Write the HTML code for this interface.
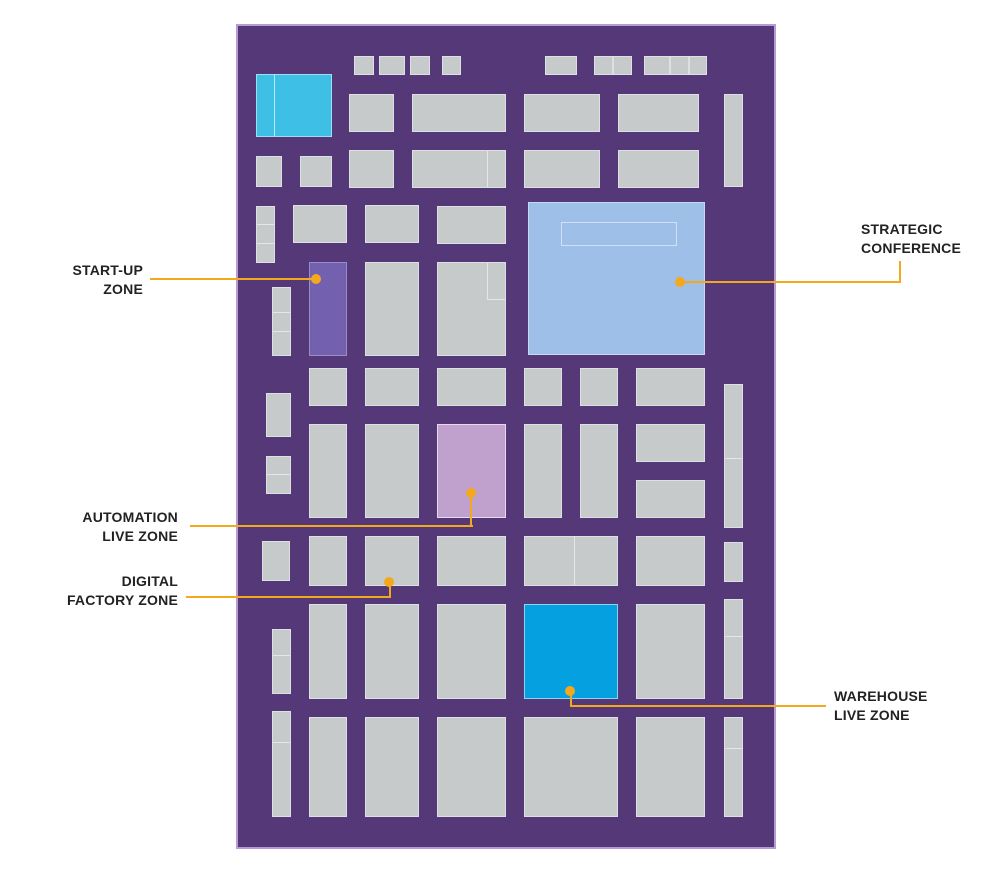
<!DOCTYPE html>
<html><head><meta charset="utf-8"><style>
body{margin:0;width:997px;height:888px;background:#fff;position:relative;overflow:hidden;font-family:"Liberation Sans",sans-serif}
.hall{position:absolute;left:236px;top:24px;width:536px;height:821px;background:#553877;border:2px solid #b89bd3;box-sizing:content-box}
.b{position:absolute;background:#c6cacb;border:1px solid #dde0e2;box-sizing:border-box}
.s{position:absolute;height:1px;background:#e4e6e8}
.l{position:absolute;font-weight:bold;font-size:14px;line-height:19px;color:#222;letter-spacing:0.2px}
.r{text-align:right}
.h{position:absolute;background:#f4a81c;height:2px}
.v{position:absolute;background:#f4a81c;width:2px}
.d{position:absolute;width:10px;height:10px;border-radius:50%;background:#f4a81c}
</style></head><body>
<div class="hall"></div>
<div class="b" style="left:354px;top:56px;width:20px;height:19px"></div>
<div class="b" style="left:379px;top:56px;width:26px;height:19px"></div>
<div class="b" style="left:410px;top:56px;width:20px;height:19px"></div>
<div class="b" style="left:442px;top:56px;width:19px;height:19px"></div>
<div class="b" style="left:545px;top:56px;width:32px;height:19px"></div>
<div class="b" style="left:594px;top:56px;width:19px;height:19px"></div>
<div class="b" style="left:613px;top:56px;width:19px;height:19px"></div>
<div class="b" style="left:644px;top:56px;width:26px;height:19px"></div>
<div class="b" style="left:670px;top:56px;width:19px;height:19px"></div>
<div class="b" style="left:689px;top:56px;width:18px;height:19px"></div>
<div class="b" style="left:256px;top:74px;width:76px;height:63px;background:#3ec0e6;border-color:#9fe0f3"></div>
<div style="position:absolute;left:274px;top:75px;width:1px;height:61px;background:#b8e9f7"></div>
<div class="b" style="left:349px;top:94px;width:45px;height:38px"></div>
<div class="b" style="left:412px;top:94px;width:94px;height:38px"></div>
<div class="b" style="left:524px;top:94px;width:76px;height:38px"></div>
<div class="b" style="left:618px;top:94px;width:81px;height:38px"></div>
<div class="b" style="left:724px;top:94px;width:19px;height:93px"></div>
<div class="b" style="left:256px;top:156px;width:26px;height:31px"></div>
<div class="b" style="left:300px;top:156px;width:32px;height:31px"></div>
<div class="b" style="left:349px;top:150px;width:45px;height:38px"></div>
<div class="b" style="left:412px;top:150px;width:94px;height:38px"></div>
<div style="position:absolute;left:487px;top:151px;width:1px;height:36px;background:#e4e6e8"></div>
<div class="b" style="left:524px;top:150px;width:76px;height:38px"></div>
<div class="b" style="left:618px;top:150px;width:81px;height:38px"></div>
<div class="b" style="left:256px;top:206px;width:19px;height:57px"></div>
<div class="s" style="left:257px;top:224px;width:17px"></div>
<div class="s" style="left:257px;top:243px;width:17px"></div>
<div class="b" style="left:293px;top:205px;width:54px;height:38px"></div>
<div class="b" style="left:365px;top:205px;width:54px;height:38px"></div>
<div class="b" style="left:437px;top:206px;width:69px;height:38px"></div>
<div class="b" style="left:528px;top:202px;width:177px;height:153px;background:#9dbfe8;border-color:#c2d8f3"></div>
<div style="position:absolute;left:561px;top:222px;width:116px;height:24px;border:1px solid #d0e0f5;box-sizing:border-box"></div>
<div class="b" style="left:272px;top:287px;width:19px;height:69px"></div>
<div class="s" style="left:273px;top:312px;width:17px"></div>
<div class="s" style="left:273px;top:331px;width:17px"></div>
<div class="b" style="left:309px;top:262px;width:38px;height:94px;background:#7360ae;border-color:#9a8bc9"></div>
<div class="b" style="left:365px;top:262px;width:54px;height:94px"></div>
<div class="b" style="left:437px;top:262px;width:69px;height:94px"></div>
<div style="position:absolute;left:487px;top:263px;width:1px;height:37px;background:#e4e6e8"></div>
<div style="position:absolute;left:487px;top:299px;width:18px;height:1px;background:#e4e6e8"></div>
<div class="b" style="left:309px;top:368px;width:38px;height:38px"></div>
<div class="b" style="left:365px;top:368px;width:54px;height:38px"></div>
<div class="b" style="left:437px;top:368px;width:69px;height:38px"></div>
<div class="b" style="left:524px;top:368px;width:38px;height:38px"></div>
<div class="b" style="left:580px;top:368px;width:38px;height:38px"></div>
<div class="b" style="left:636px;top:368px;width:69px;height:38px"></div>
<div class="b" style="left:724px;top:384px;width:19px;height:144px"></div>
<div class="s" style="left:725px;top:458px;width:17px"></div>
<div class="b" style="left:266px;top:393px;width:25px;height:44px"></div>
<div class="b" style="left:266px;top:456px;width:25px;height:38px"></div>
<div class="s" style="left:267px;top:474px;width:23px"></div>
<div class="b" style="left:309px;top:424px;width:38px;height:94px"></div>
<div class="b" style="left:365px;top:424px;width:54px;height:94px"></div>
<div class="b" style="left:437px;top:424px;width:69px;height:94px;background:#c0a1cd;border-color:#e6d8ee"></div>
<div class="b" style="left:524px;top:424px;width:38px;height:94px"></div>
<div class="b" style="left:580px;top:424px;width:38px;height:94px"></div>
<div class="b" style="left:636px;top:424px;width:69px;height:38px"></div>
<div class="b" style="left:636px;top:480px;width:69px;height:38px"></div>
<div class="b" style="left:262px;top:541px;width:28px;height:40px"></div>
<div class="b" style="left:309px;top:536px;width:38px;height:50px"></div>
<div class="b" style="left:365px;top:536px;width:54px;height:50px"></div>
<div class="b" style="left:437px;top:536px;width:69px;height:50px"></div>
<div class="b" style="left:524px;top:536px;width:94px;height:50px"></div>
<div style="position:absolute;left:574px;top:537px;width:1px;height:48px;background:#e4e6e8"></div>
<div class="b" style="left:636px;top:536px;width:69px;height:50px"></div>
<div class="b" style="left:724px;top:542px;width:19px;height:40px"></div>
<div class="b" style="left:272px;top:629px;width:19px;height:65px"></div>
<div class="s" style="left:273px;top:655px;width:17px"></div>
<div class="b" style="left:309px;top:604px;width:38px;height:95px"></div>
<div class="b" style="left:365px;top:604px;width:54px;height:95px"></div>
<div class="b" style="left:437px;top:604px;width:69px;height:95px"></div>
<div class="b" style="left:524px;top:604px;width:94px;height:95px;background:#05a0df;border-color:#8fd2f0"></div>
<div class="b" style="left:636px;top:604px;width:69px;height:95px"></div>
<div class="b" style="left:724px;top:599px;width:19px;height:100px"></div>
<div class="s" style="left:725px;top:636px;width:17px"></div>
<div class="b" style="left:272px;top:711px;width:19px;height:106px"></div>
<div class="s" style="left:273px;top:742px;width:17px"></div>
<div class="b" style="left:309px;top:717px;width:38px;height:100px"></div>
<div class="b" style="left:365px;top:717px;width:54px;height:100px"></div>
<div class="b" style="left:437px;top:717px;width:69px;height:100px"></div>
<div class="b" style="left:524px;top:717px;width:94px;height:100px"></div>
<div class="b" style="left:636px;top:717px;width:69px;height:100px"></div>
<div class="b" style="left:724px;top:717px;width:19px;height:100px"></div>
<div class="s" style="left:725px;top:748px;width:17px"></div>

<div class="l r" style="left:40px;top:261px;width:103px">START-UP<br>ZONE</div>
<div class="h" style="left:150px;top:278px;width:166px"></div><div class="d" style="left:311px;top:274px"></div>
<div class="l" style="left:861px;top:220px">STRATEGIC<br>CONFERENCE</div>
<div class="h" style="left:680px;top:281px;width:221px"></div><div class="v" style="left:899px;top:261px;height:22px"></div><div class="d" style="left:675px;top:277px"></div>
<div class="l r" style="left:40px;top:508px;width:138px">AUTOMATION<br>LIVE ZONE</div>
<div class="h" style="left:190px;top:525px;width:283px"></div><div class="v" style="left:470px;top:493px;height:34px"></div><div class="d" style="left:466px;top:488px"></div>
<div class="l r" style="left:40px;top:572px;width:138px">DIGITAL<br>FACTORY ZONE</div>
<div class="h" style="left:186px;top:596px;width:205px"></div><div class="v" style="left:389px;top:582px;height:16px"></div><div class="d" style="left:384px;top:577px"></div>
<div class="l" style="left:834px;top:687px">WAREHOUSE<br>LIVE ZONE</div>
<div class="v" style="left:570px;top:691px;height:16px"></div><div class="h" style="left:570px;top:705px;width:256px"></div><div class="d" style="left:565px;top:686px"></div>
</body></html>
